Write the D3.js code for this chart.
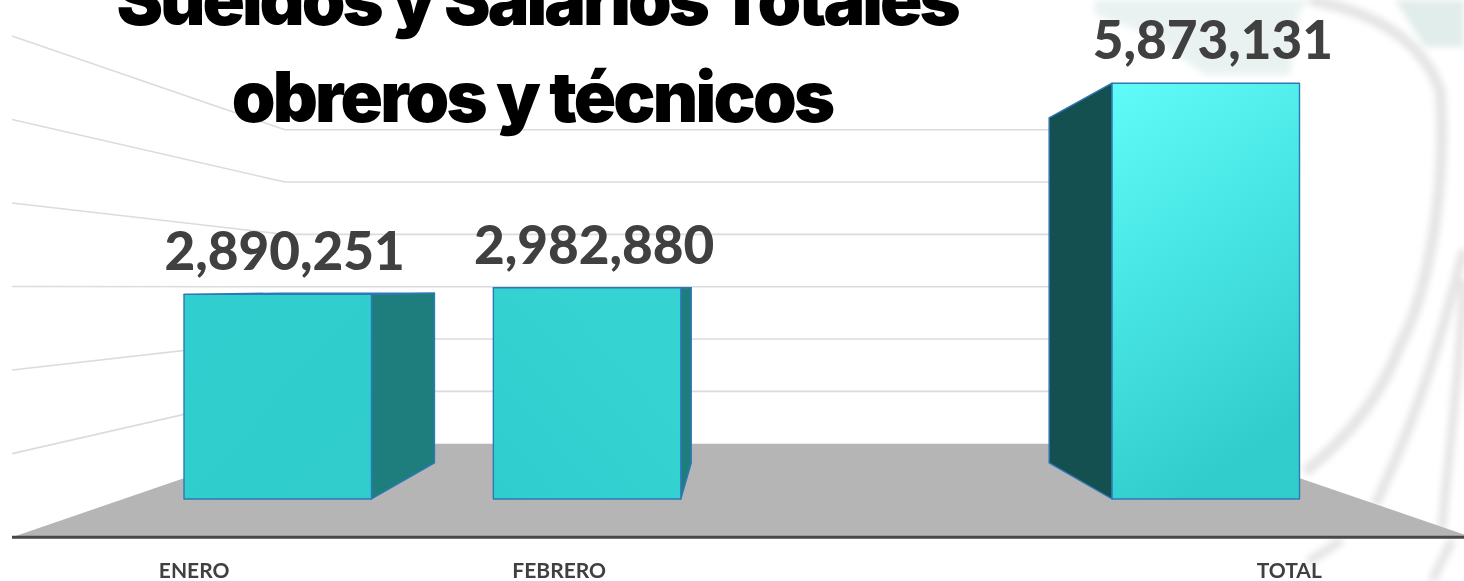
<!DOCTYPE html>
<html lang="es"><head><meta charset="utf-8">
<script src="https://cdn.jsdelivr.net/npm/d3@7/dist/d3.min.js"></script>
<style>html,body{margin:0;padding:0;background:#fff;overflow:hidden}svg{display:block}</style>
</head><body><svg id="c" width="1464" height="581"></svg>
<script>
const categories = ["ENERO", "FEBRERO", "", "TOTAL"];
const values = [2890251, 2982880, null, 5873131];
const valueLabels = ["2,890,251", "2,982,880", "", "5,873,131"];
const gridTicks = [1000000, 2000000, 3000000, 4000000, 5000000, 6000000];
const titleLines = ["Sueldos y Salarios Totales", "obreros y técnicos"];

const svg = d3.select("#c");
const W = 1464, H = 581;

// Perspective model: world plane z has a scale factor; everything converges on a vanishing point
const vp = {x: 742, y: 287};
const depth = {outer: 1.18, barFront: 1, barBack: 0.83, wall: 0.739};
const xWorld = d3.scaleBand().domain(categories).range([-558, 557.5]).paddingInner(0.394).paddingOuter(0);
const vWorld = d3.scaleLinear().domain([0, 1000000]).range([212, 141.2]);
const px = (x, s) => vp.x + x * s;
const py = (v, s) => vp.y + vWorld(v) * s;
const floorEdgeX = 618.6;

const defs = svg.append("defs");
defs.append("filter").attr("id", "soft").append("feGaussianBlur").attr("stdDeviation", 3);
function grad(id, stops, x1, y1, x2, y2) {
  const g = defs.append("linearGradient").attr("id", id)
    .attr("x1", x1).attr("y1", y1).attr("x2", x2).attr("y2", y2);
  stops.forEach(([o, c]) => g.append("stop").attr("offset", o).attr("stop-color", c));
}
grad("g0", [[0, "#30cece"], [1, "#31cdcd"]], 0, 0, 1, 1);
grad("g1", [[0, "#2fcdcd"], [0.7, "#36d3d3"], [1, "#36d3d3"]], 0, 1, 1, 0);
grad("g3", [[0, "#5ffbf9"], [0.45, "#48e6e4"], [1, "#31cdcd"]], 0.05, 0, 0.35, 1);

// faint background artwork behind the chart
const bg = svg.append("g").attr("filter", "url(#soft)").attr("fill", "none");
bg.append("path").attr("d", "M1095,0H1310L1300,10L1290,75H1205L1150,35L1095,15Z").attr("fill", "#e3eeec").attr("opacity", .75);
bg.append("path").attr("d", "M1395,0H1464V47H1425Z").attr("fill", "#e1edeb");
[["M1310,0C1390,15 1425,50 1440,90C1447,180 1430,290 1400,345C1380,400 1345,440 1305,472", 11],
 ["M1464,250C1450,300 1430,390 1375,505", 10],
 ["M1464,280C1458,400 1445,480 1442,530", 9],
 ["M1342,540L1308,562", 9], ["M1452,540L1432,581", 9]]
  .forEach(([d, w]) => bg.append("path").attr("d", d).attr("stroke", "#dedede").attr("stroke-width", w).attr("opacity", .8));

// floor
svg.append("polygon").attr("fill", "#b5b5b5").attr("points", [
  [px(-floorEdgeX, depth.wall), py(0, depth.wall)],
  [px(floorEdgeX, depth.wall), py(0, depth.wall)],
  [px(floorEdgeX, depth.outer), py(0, depth.outer)],
  [px(-floorEdgeX, depth.outer), py(0, depth.outer)]
].join(" "));

// gridlines: side wall, then back wall
svg.append("g").attr("fill", "none").attr("stroke", "#dcdcdc").attr("stroke-width", 1.6)
  .selectAll("polyline").data(gridTicks).join("polyline")
  .attr("points", d => [
    [px(-floorEdgeX, depth.outer), py(d, depth.outer)],
    [px(-floorEdgeX, depth.wall), py(d, depth.wall)],
    [px(floorEdgeX, depth.wall), py(d, depth.wall)]
  ].join(" "));

// axis line
svg.append("line").attr("x1", 12).attr("x2", W)
  .attr("y1", py(0, depth.outer)).attr("y2", py(0, depth.outer))
  .attr("stroke", "#484848").attr("stroke-width", 3);

// bars
const data = categories.map((c, i) => ({c, v: values[i], label: valueLabels[i], i})).filter(d => d.v != null);
const sideColors = {ENERO: "#1e7e7e", FEBRERO: "#1e7e7e", TOTAL: "#155050"};
const bw = xWorld.bandwidth();
const blue = "#2f78b8";
const bars = svg.append("g").selectAll("g").data(data).join("g");
bars.each(function (d) {
  const g = d3.select(this);
  const x0 = xWorld(d.c), x1 = x0 + bw;
  const sideX = Math.abs(x0) < Math.abs(x1) ? x0 : x1; // inner face is the one visible
  const poly = (pts, fill) => g.append("polygon").attr("points", pts.join(" "))
    .attr("fill", fill).attr("stroke", blue).attr("stroke-width", 1.4).attr("stroke-linejoin", "round");
  poly([[px(sideX, depth.barFront), py(0, depth.barFront)],
        [px(sideX, depth.barBack), py(0, depth.barBack)],
        [px(sideX, depth.barBack), py(d.v, depth.barBack)],
        [px(sideX, depth.barFront), py(d.v, depth.barFront)]], sideColors[d.c]);
  if (py(d.v, depth.barFront) > vp.y) {
    poly([[px(x0, depth.barFront), py(d.v, depth.barFront)],
          [px(x1, depth.barFront), py(d.v, depth.barFront)],
          [px(x1, depth.barBack), py(d.v, depth.barBack)],
          [px(x0, depth.barBack), py(d.v, depth.barBack)]], "#2a9fa6");
  }
  poly([[px(x0, 1), py(d.v, 1)], [px(x1, 1), py(d.v, 1)], [px(x1, 1), py(0, 1)], [px(x0, 1), py(0, 1)]], `url(#g${d.i})`);
});

// data labels
svg.append("g").selectAll("text").data(data).join("text")
  .attr("x", d => px(xWorld(d.c) + bw / 2, 1) + 7)
  .attr("y", d => py(d.v, 1) - 24)
  .attr("text-anchor", "middle")
  .attr("font-family", "Lato, sans-serif").attr("font-weight", 900)
  .attr("font-size", 53).attr("fill", "#404040")
  .text(d => d.label);

// category labels
svg.append("g").selectAll("text").data(data).join("text")
  .attr("x", d => px(xWorld(d.c) + bw / 2, depth.outer))
  .attr("y", 578)
  .attr("text-anchor", "middle")
  .attr("font-family", "Lato, sans-serif").attr("font-weight", 700)
  .attr("font-size", 21).attr("fill", "#404040")
  .text(d => d.c);

// title
svg.append("g").selectAll("text").data(titleLines).join("text")
  .attr("x", (d, i) => i ? 532 : 537).attr("y", (d, i) => 25 + i * 97)
  .attr("text-anchor", "middle")
  .attr("font-family", "Inter, sans-serif").attr("font-weight", 900)
  .attr("font-size", 70).attr("letter-spacing", (d, i) => i ? "-2.75px" : "-3px").attr("fill", "#000")
  .text(d => d);
</script></body></html>
